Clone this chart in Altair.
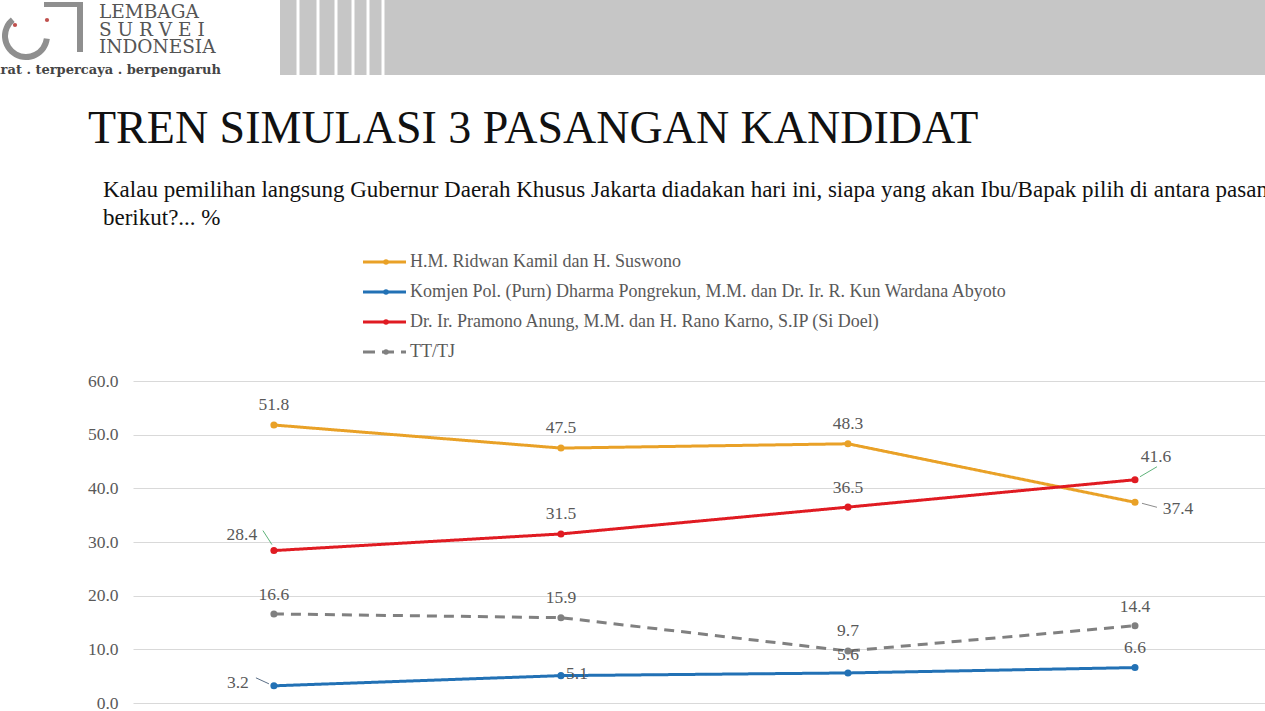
import altair as alt
import pandas as pd

# ---------------- data ----------------
periods = ["Survei 1", "Survei 2", "Survei 3", "Survei 4"]
series_names = [
    "H.M. Ridwan Kamil dan H. Suswono",
    "Komjen Pol. (Purn) Dharma Pongrekun, M.M. dan Dr. Ir. R. Kun Wardana Abyoto",
    "Dr. Ir. Pramono Anung, M.M. dan H. Rano Karno, S.IP (Si Doel)",
    "TT/TJ",
]
ridwan = [51.8, 47.5, 48.3, 37.4]
dharma = [3.2, 5.1, 5.6, 6.6]
pramono = [28.4, 31.5, 36.5, 41.6]
tttj = [16.6, 15.9, 9.7, 14.4]
y_ticks = [0, 10, 20, 30, 40, 50, 60]

title_text = "TREN SIMULASI 3 PASANGAN KANDIDAT"
subtitle_lines = [
    "Kalau pemilihan langsung Gubernur Daerah Khusus Jakarta diadakan hari ini, siapa yang akan Ibu/Bapak pilih di antara pasangan",
    "berikut?... %",
]

# ---------------- styles ----------------
colors = ["#E9A127", "#2271B5", "#E01B22", "#808080"]
dashes = [[1, 0], [1, 0], [1, 0], [10, 7]]
SERIF = "Liberation Serif"
TXT = "#595959"
LABEL_FS = 17.5

# label offsets (dx, dy) in pixels, per series / per period
label_offsets = [
    [(0, -20), (0, -20), (0, -20), (43, 7)],
    [(-36, -3), (16, -2), (0, -18), (0, -20)],
    [(-32, -16), (0, -20), (0, -19), (21, -23)],
    [(0, -19), (0, -20), (0, -20), (0, -19)],
]

values_all = [ridwan, dharma, pramono, tttj]
rows = []
for s, vals in zip(series_names, values_all):
    for i, (p, v) in enumerate(zip(periods, vals)):
        rows.append({"series": s, "idx": i, "period": p, "value": v})
df = pd.DataFrame(rows)

# plot area in page pixels
L, T = 133, 381
W, H = 1132, 322

xscale = alt.Scale(domain=[-0.491, 3.453], nice=False, zero=False)
yscale = alt.Scale(domain=[0, 60], nice=False)
cscale = alt.Scale(domain=series_names, range=colors)
dscale = alt.Scale(domain=series_names, range=dashes)

base = alt.Chart(df).encode(
    x=alt.X("idx:Q", scale=xscale, axis=None),
    y=alt.Y(
        "value:Q",
        scale=yscale,
        axis=alt.Axis(
            values=y_ticks, format=".1f", grid=True, gridColor="#d9d9d9",
            domain=False, ticks=False, labelFont=SERIF, labelFontSize=LABEL_FS,
            labelColor=TXT, labelPadding=15, title=None,
        ),
    ),
    color=alt.Color("series:N", scale=cscale, legend=None),
)

lines = base.mark_line(strokeWidth=3).encode(
    strokeDash=alt.StrokeDash("series:N", scale=dscale, legend=None),
    order=alt.Order("idx:Q"),
)
points = base.mark_point(filled=True, size=50, opacity=1)

layers = [lines, points]

# data labels
for si, s in enumerate(series_names):
    for i in range(len(periods)):
        dx, dy = label_offsets[si][i]
        sub = df[(df.series == s) & (df.idx == i)]
        layers.append(
            alt.Chart(sub).mark_text(
                font=SERIF, fontSize=LABEL_FS, color=TXT, dx=dx, dy=dy, baseline="middle"
            ).encode(
                x=alt.X("idx:Q", scale=xscale),
                y=alt.Y("value:Q", scale=yscale),
                text=alt.Text("value:Q", format=".1f"),
            )
        )

# leader lines
leaders = [
    (2, 0, "#5FB37A", (-11, -20), (-2, -6)),
    (1, 0, "#5a6e86", (-18, -8), (-5, -2)),
    (0, 3, "#8c8c8c", (7, 1), (22, 5)),
    (2, 3, "#5FB37A", (5, -3), (22, -13)),
]
for si, i, col, (ax, ay), (bx, by) in leaders:
    sub = df[(df.series == series_names[si]) & (df.idx == i)]
    layers.append(
        alt.Chart(sub).mark_rule(
            color=col, strokeWidth=1, xOffset=ax, yOffset=ay, x2Offset=bx, y2Offset=by
        ).encode(
            x=alt.X("idx:Q", scale=xscale),
            x2="idx:Q",
            y=alt.Y("value:Q", scale=yscale),
            y2="value:Q",
        )
    )

one = pd.DataFrame({"a": [0]})

# legend
legend_y = [262, 292, 322, 352]
for s, col, dsh, ly in zip(series_names, colors, dashes, legend_y):
    layers.append(
        alt.Chart(one).mark_rule(color=col, strokeWidth=3,
                                 strokeDash=[12, 7] if dsh[1] else [1, 0]).encode(
            x=alt.value(363 - L), x2=alt.value(406 - L), y=alt.value(ly - T)
        )
    )
    layers.append(
        alt.Chart(one).mark_point(filled=True, color=col, size=30, opacity=1).encode(
            x=alt.value(386 - L), y=alt.value(ly - T)
        )
    )
    layers.append(
        alt.Chart(one).mark_text(align="left", baseline="middle", font=SERIF,
                                 fontSize=18, color=TXT).encode(
            x=alt.value(410 - L), y=alt.value(ly - T), text=alt.value(s)
        )
    )

# title & subtitle
layers.append(
    alt.Chart(one).mark_text(align="left", baseline="alphabetic", font=SERIF,
                             fontSize=46, color="#111111").encode(
        x=alt.value(88 - L), y=alt.value(143 - T), text=alt.value(title_text)
    )
)
for line, by in zip(subtitle_lines, [197, 225]):
    layers.append(
        alt.Chart(one).mark_text(align="left", baseline="alphabetic", font=SERIF,
                                 fontSize=23, color="#111111").encode(
            x=alt.value(103 - L), y=alt.value(by - T), text=alt.value(line)
        )
    )

# header band
layers.append(
    alt.Chart(one).mark_rect(color="#C6C6C6").encode(
        x=alt.value(280 - L), x2=alt.value(1265 - L),
        y=alt.value(0 - T), y2=alt.value(75 - T)
    )
)
for sx in [298, 318, 336, 353, 368, 383]:
    layers.append(
        alt.Chart(one).mark_rule(color="white", strokeWidth=3).encode(
            x=alt.value(sx - L), y=alt.value(0 - T), y2=alt.value(75 - T)
        )
    )

# logo
logo_gray = "#8F8F8F"
layers.append(
    alt.Chart(one).mark_rect(color=logo_gray).encode(
        x=alt.value(77 - L), x2=alt.value(83 - L), y=alt.value(2 - T), y2=alt.value(52 - T)
    )
)
layers.append(
    alt.Chart(one).mark_rect(color=logo_gray).encode(
        x=alt.value(44 - L), x2=alt.value(83 - L), y=alt.value(2 - T), y2=alt.value(7 - T)
    )
)
layers.append(
    alt.Chart(one).mark_arc(color=logo_gray).encode(
        x=alt.value(26 - L), y=alt.value(36 - T),
        radius=alt.value(18), radius2=alt.value(24),
        theta=alt.value(1.7), theta2=alt.value(5.6)
    )
)
for px, py in [(15, 25), (47, 20)]:
    layers.append(
        alt.Chart(one).mark_point(filled=True, color="#C0504D", size=18, opacity=1).encode(
            x=alt.value(px - L), y=alt.value(py - T)
        )
    )
for txt, ty in [("LEMBAGA", 18), ("S U R V E I", 36), ("INDONESIA", 53)]:
    layers.append(
        alt.Chart(one).mark_text(align="left", baseline="alphabetic", font="DejaVu Serif",
                                 fontSize=18.5, color="#555555").encode(
            x=alt.value(99 - L), y=alt.value(ty - T), text=alt.value(txt)
        )
    )
layers.append(
    alt.Chart(one).mark_text(align="right", baseline="alphabetic", font="DejaVu Serif",
                             fontSize=13, fontWeight="bold", color="#444444").encode(
        x=alt.value(221 - L), y=alt.value(74 - T),
        text=alt.value("akurat . terpercaya . berpengaruh")
    )
)

chart = alt.layer(*layers).properties(
    width=W, height=H,
    autosize=alt.AutoSizeParams(type="none"),
    padding={"left": L, "top": T, "right": 1265 - L - W, "bottom": 711 - T - H},
    background="white",
).configure_view(stroke=None)

chart.save("out.html", embed_options={"renderer": "svg", "actions": False})
